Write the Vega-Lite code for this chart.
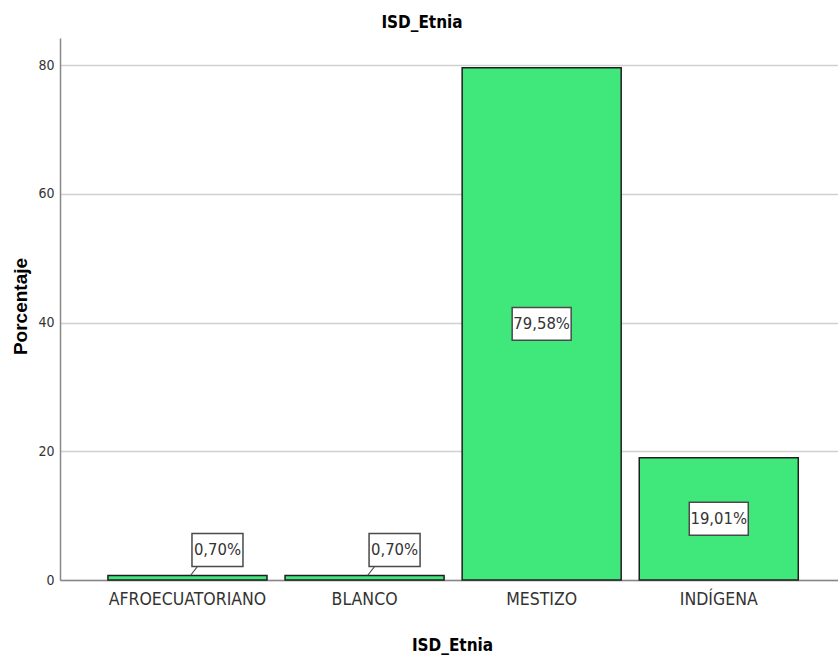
{
  "$schema": "https://vega.github.io/schema/vega-lite/v6.json",
  "width": 778,
  "height": 542,
  "autosize": "none",
  "padding": {"left": 60, "top": 38, "right": 0, "bottom": 77},
  "background": "white",
  "title": {"text": "ISD_Etnia", "font": "DejaVu Sans Condensed, Liberation Sans", "fontSize": 17, "fontWeight": "bold", "color": "#000000", "anchor": "middle", "dx": -27, "offset": 6},
  "data": {"values": [
    {"cat": "AFROECUATORIANO", "pct": 0.70, "label": "0,70%"},
    {"cat": "BLANCO", "pct": 0.70, "label": "0,70%"},
    {"cat": "MESTIZO", "pct": 79.58, "label": "79,58%"},
    {"cat": "INDÍGENA", "pct": 19.01, "label": "19,01%"}
  ]},
  "layer": [
    {
      "mark": {"type": "bar", "fill": "#40E87C", "stroke": "#1f1f1f", "strokeWidth": 1.5},
      "encoding": {
        "x": {"field": "cat", "type": "nominal", "sort": null,
              "scale": {"paddingInner": 0.102, "paddingOuter": 0.2475, "align": 0.547},
              "axis": {"title": "ISD_Etnia", "labelAngle": 0}},
        "y": {"field": "pct", "type": "quantitative",
              "scale": {"domain": [0, 84.2], "nice": false, "zero": true},
              "axis": {"title": "Porcentaje", "values": [0, 20, 40, 60, 80]}}
      }
    },
    {
      "transform": [{"filter": "datum.pct >= 5"}, {"calculate": "datum.pct / 2", "as": "mid"}],
      "mark": {"type": "point", "shape": "M-1,-0.559L1,-0.559L1,0.559L-1,0.559Z", "size": 3481, "filled": true, "fill": "white", "stroke": "#4a4a4a", "strokeWidth": 1.5, "opacity": 1},
      "encoding": {
        "x": {"field": "cat", "type": "nominal", "sort": null},
        "y": {"field": "mid", "type": "quantitative"}
      }
    },
    {
      "transform": [{"filter": "datum.pct >= 5"}, {"calculate": "datum.pct / 2", "as": "mid"}],
      "mark": {"type": "text", "font": "DejaVu Sans Condensed, Liberation Sans", "fontSize": 16.5, "color": "#333333", "baseline": "middle", "align": "center"},
      "encoding": {
        "x": {"field": "cat", "type": "nominal", "sort": null},
        "y": {"field": "mid", "type": "quantitative"},
        "text": {"field": "label"}
      }
    },
    {
      "transform": [{"filter": "datum.pct < 5"}],
      "mark": {"type": "rule", "color": "#4a4a4a", "strokeWidth": 1.2, "xOffset": 3, "x2Offset": 10, "y2Offset": -9},
      "encoding": {
        "x": {"field": "cat", "type": "nominal", "sort": null, "bandPosition": 0.5},
        "x2": {"field": "cat", "bandPosition": 0.5},
        "y": {"field": "pct", "type": "quantitative"},
        "y2": {"field": "pct"}
      }
    },
    {
      "transform": [{"filter": "datum.pct < 5"}],
      "mark": {"type": "point", "shape": "M-1,-0.647L1,-0.647L1,0.647L-1,0.647Z", "size": 2601, "filled": true, "fill": "white", "stroke": "#4a4a4a", "strokeWidth": 1.5, "opacity": 1, "xOffset": 30, "yOffset": -25.5},
      "encoding": {
        "x": {"field": "cat", "type": "nominal", "sort": null},
        "y": {"field": "pct", "type": "quantitative"}
      }
    },
    {
      "transform": [{"filter": "datum.pct < 5"}],
      "mark": {"type": "text", "font": "DejaVu Sans Condensed, Liberation Sans", "fontSize": 16.5, "color": "#333333", "baseline": "middle", "align": "center", "xOffset": 30, "yOffset": -25.5},
      "encoding": {
        "x": {"field": "cat", "type": "nominal", "sort": null},
        "y": {"field": "pct", "type": "quantitative"},
        "text": {"field": "label"}
      }
    }
  ],
  "config": {
    "view": {"stroke": null},
    "axisX": {
      "labelFont": "DejaVu Sans Condensed, Liberation Sans", "labelFontSize": 17.5, "labelColor": "#333333", "labelPadding": 10, "labelLimit": 0,
      "ticks": false, "grid": false, "domainColor": "#888888", "domainWidth": 1.5,
      "titleFont": "DejaVu Sans Condensed, Liberation Sans", "titleFontSize": 17, "titleFontWeight": "bold", "titleColor": "#000000",
      "titleX": 392, "titleY": 65, "titleBaseline": "middle", "titleAlign": "center"
    },
    "axisY": {
      "labelFont": "DejaVu Sans Condensed, Liberation Sans", "labelFontSize": 14, "labelColor": "#333333", "labelPadding": 6,
      "ticks": false, "grid": true, "gridColor": "#d0d0d0", "gridWidth": 1.5, "domainColor": "#888888", "domainWidth": 1.5,
      "titleFont": "Liberation Sans", "titleFontSize": 19, "titleFontWeight": "bold", "titleColor": "#000000",
      "titleX": -40, "titleY": 268, "titleAngle": -90, "titleBaseline": "middle", "titleAlign": "center"
    }
  }
}
